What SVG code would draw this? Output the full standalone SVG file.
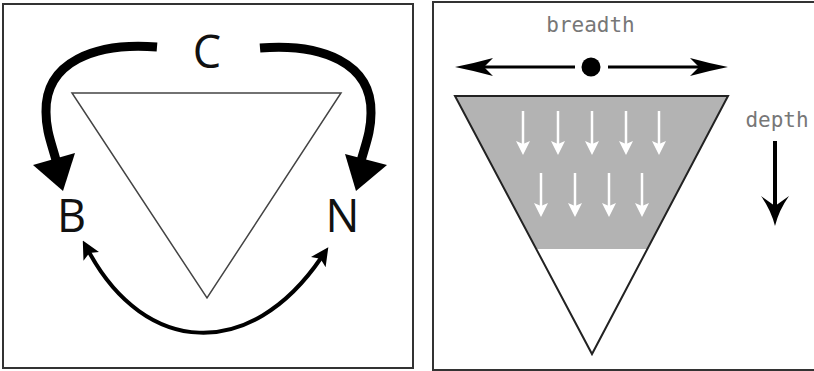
<svg xmlns="http://www.w3.org/2000/svg" xmlns:xlink="http://www.w3.org/1999/xlink" width="814" height="371" viewBox="0 0 814 371">
  <style>
    .frame { fill: #ffffff; stroke: #333333; stroke-width: 2; }
    .label { font-family: "Open Sans", "Noto Sans", sans-serif; font-size: 45px; fill: #111111; text-anchor: middle; }
    .mono { font-family: "DejaVu Sans Mono", "Liberation Mono", monospace; font-size: 21px; fill: #777777; text-anchor: middle; }
    .thick { fill: none; stroke: #000000; stroke-width: 9; }
    .thin { fill: none; stroke: #000000; stroke-width: 4; }
    .blk { fill: #000000; }
    .wline { stroke: #ffffff; stroke-width: 2.5; fill: none; }
    .whead { fill: #ffffff; }
  </style>
  <defs>
    <marker id="headThin" viewBox="0 0 18 18" refX="5" refY="9" markerWidth="18" markerHeight="18" markerUnits="userSpaceOnUse" orient="auto-start-reverse">
      <path d="M0,0 L18,9 L0,18 L4,9 Z" fill="#000000"/>
    </marker>
    <g id="wa">
      <line class="wline" x1="0" y1="0" x2="0" y2="36"/>
      <path class="whead" d="M0,44 L-7,30 L0,33 L7,30 Z"/>
    </g>
  </defs>
  <rect width="814" height="371" fill="#ffffff"/>

  <!-- Left panel -->
  <g id="left-panel">
    <rect class="frame" x="3" y="4" width="410" height="364"/>
  </g>
  <g id="triangle-left">
    <polygon points="72,93 341,93 207,298" fill="#ffffff" stroke="#444444" stroke-width="1.5"/>
  </g>
  <g id="node-C">
    <text class="label" x="207" y="68">C</text>
  </g>
  <g id="node-B">
    <text class="label" x="71.5" y="232">B</text>
  </g>
  <g id="node-N">
    <text class="label" x="342.5" y="232">N</text>
  </g>

  <g id="connectors">
    <!-- C to B -->
    <path class="thick" d="M157,47 C95,42 45,62 46,112 C46,130 51,142 56,160"/>
    <polygon class="blk" points="33,165 75,153 63,191"/>
    <!-- C to N -->
    <path class="thick" d="M260,48 C322,43 372,63 371,113 C371,131 366,143 361,161"/>
    <polygon class="blk" points="387,165 345,154 356,191"/>
    <!-- B <-> N -->
    <path class="thin" d="M89,252 C145,355 250,362 321,258" marker-start="url(#headThin)" marker-end="url(#headThin)"/>
  </g>

  <!-- Right panel -->
  <g id="right-panel">
    <rect class="frame" x="433" y="2" width="400" height="368"/>
  </g>
  <g id="funnel">
    <polygon points="455,96 728,96 647,249 536,249" fill="#b3b3b3"/>
    <polygon points="455,96 728,96 592,354" fill="none" stroke="#222222" stroke-width="2"/>
    <use xlink:href="#wa" x="523" y="111"/>
    <use xlink:href="#wa" x="558" y="111"/>
    <use xlink:href="#wa" x="592" y="111"/>
    <use xlink:href="#wa" x="626" y="111"/>
    <use xlink:href="#wa" x="659" y="111"/>
    <use xlink:href="#wa" x="541" y="173"/>
    <use xlink:href="#wa" x="575" y="173"/>
    <use xlink:href="#wa" x="609" y="173"/>
    <use xlink:href="#wa" x="642" y="173"/>
  </g>
  <g id="breadth">
    <text class="mono" x="590.5" y="32">breadth</text>
    <line x1="484" y1="67" x2="575" y2="67" stroke="#000000" stroke-width="3"/>
    <line x1="608" y1="67" x2="699" y2="67" stroke="#000000" stroke-width="3"/>
    <circle cx="591" cy="67" r="9.5" class="blk"/>
    <path class="blk" d="M455,67 Q475,63 493,58 L484,67 L493,76 Q475,71 455,67 Z"/>
    <path class="blk" d="M728,67 Q708,63 690,58 L699,67 L690,76 Q708,71 728,67 Z"/>
  </g>
  <g id="depth">
    <text class="mono" x="777" y="127">depth</text>
    <line x1="775" y1="141" x2="775" y2="208" stroke="#000000" stroke-width="4"/>
    <path class="blk" d="M775,226 Q771,210 761,196 L775,206 L789,196 Q779,210 775,226 Z"/>
  </g>
</svg>
